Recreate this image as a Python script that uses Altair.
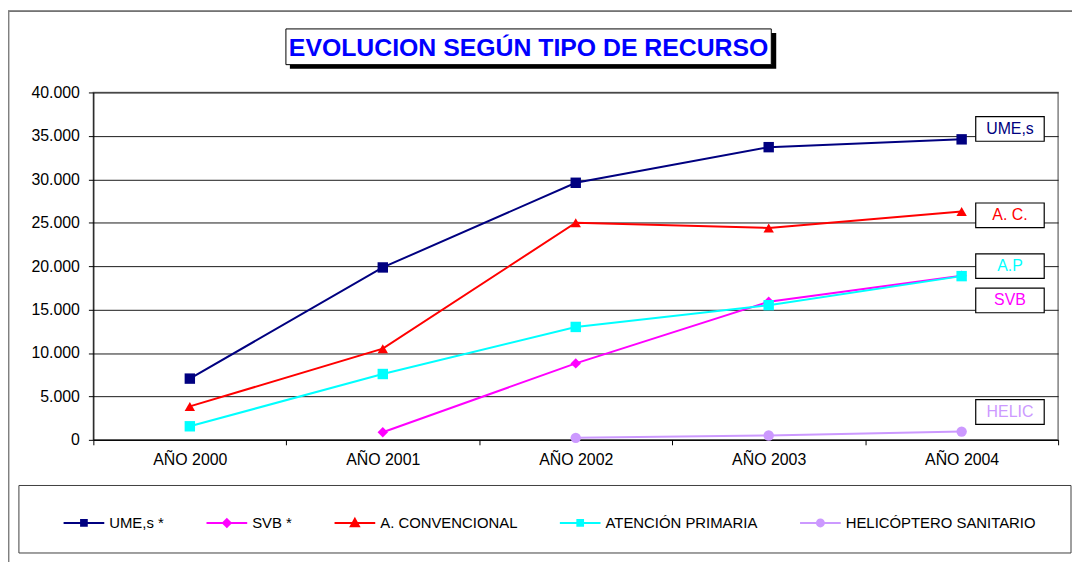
import altair as alt
import pandas as pd

# ---------------- data ----------------
years = ["AÑO 2000", "AÑO 2001", "AÑO 2002", "AÑO 2003", "AÑO 2004"]
series = ["UME,s *", "SVB *", "A. CONVENCIONAL", "ATENCIÓN PRIMARIA", "HELICÓPTERO SANITARIO"]
colors = ["#000080", "#FF00FF", "#FF0000", "#00FFFF", "#CC99FF"]
shapes = ["square", "diamond", "triangle-up", "square", "circle"]

ume = [7050, 19850, 29600, 33700, 34600]
svb = [None, 880, 8800, 15900, 18900]
ac = [3850, 10500, 25000, 24400, 26300]
ap = [1560, 7580, 13000, 15500, 18850]
helic = [None, None, 230, 500, 950]

label_texts = ["UME,s", "A. C.", "A.P", "SVB", "HELIC"]
label_colors = ["#000080", "#FF0000", "#00FFFF", "#FF00FF", "#CC99FF"]
label_values = [35800, 25850, 20000, 16050, 3200]

title_text = "EVOLUCION SEGÚN TIPO DE RECURSO"
y_ticks = [0, 5000, 10000, 15000, 20000, 25000, 30000, 35000, 40000]

# ---------------- tables ----------------
rows = []
for name, vals in zip(series, [ume, svb, ac, ap, helic]):
    for i, (yr, v) in enumerate(zip(years, vals)):
        if v is not None:
            rows.append({"serie": name, "year": yr, "order": i, "value": v})
df = pd.DataFrame(rows)
labels_df = pd.DataFrame({"txt": label_texts, "lc": label_colors, "value": label_values})
one = pd.DataFrame({"k": [0]})

FONT = "Liberation Sans"
W, H = 972, 350

xscale = alt.Scale(domain=years, type="band", paddingInner=0, paddingOuter=0)
yscale = alt.Scale(domain=[0, 40000], nice=False)

x_enc = alt.X("year:N", scale=xscale, bandPosition=0.5,
              axis=alt.Axis(title=None, labelAngle=0, tickBand="extent", tickSize=5,
                            labelFontSize=16, labelFont=FONT, labelColor="#000",
                            labelPadding=7, domainColor="#000", tickColor="#000",
                            grid=False))
y_axis = alt.Axis(title=None, values=y_ticks,
                  labelExpr="replace(format(datum.value, ','), ',', '.')",
                  grid=True, gridColor="#1a1a1a", gridWidth=1,
                  tickSize=5, tickColor="#000", domainColor="#000",
                  labelFontSize=16, labelFont=FONT, labelColor="#000",
                  labelPadding=9)
y_enc = alt.Y("value:Q", scale=yscale, axis=y_axis)

series_layers = []
for name, col, shp in zip(series, colors, shapes):
    base = alt.Chart(df).transform_filter(alt.datum.serie == name)
    series_layers.append(
        base.mark_line(strokeWidth=2, color=col).encode(x=x_enc, y=y_enc, order="order:Q"))
for name, col, shp in zip(series, colors, shapes):
    base = alt.Chart(df).transform_filter(alt.datum.serie == name)
    series_layers.append(
        base.mark_point(filled=True, size=110, opacity=1, shape=shp, color=col).encode(
            x=x_enc, y=y_enc))

# legend symbols: line + marker
legend_paths = [
    "M-1,0H1M-0.14,-0.14H0.14V0.14H-0.14Z",
    "M-1,0H1M0,-0.19L0.19,0L0,0.19L-0.19,0Z",
    "M-1,0H1M0,-0.2L0.2,0.16H-0.2Z",
    "M-1,0H1M-0.14,-0.14H0.14V0.14H-0.14Z",
    "M-1,0H1M0.17,0A0.17,0.17,0,1,1,-0.17,0A0.17,0.17,0,1,1,0.17,0Z",
]
leg = alt.Legend(title=None, orient="none", legendX=-31, legendY=412,
                 direction="horizontal", columns=5, columnPadding=38,
                 symbolSize=1681, symbolStrokeWidth=2, labelFontSize=15,
                 labelFont=FONT, labelColor="#000", labelOffset=4, padding=0,
                 labelLimit=400, symbolOpacity=1)
legend_layer = alt.Chart(df).transform_filter("false").mark_point(
    filled=True, strokeWidth=2, opacity=1).encode(
    x=x_enc, y=y_enc,
    fill=alt.Fill("serie:N", scale=alt.Scale(domain=series, range=colors), legend=leg),
    stroke=alt.Stroke("serie:N", scale=alt.Scale(domain=series, range=colors), legend=leg),
    shape=alt.Shape("serie:N", scale=alt.Scale(domain=series, range=legend_paths), legend=leg),
)

# right-side labels
box_path = "M-1,-0.36H1V0.36H-1Z"
label_boxes = alt.Chart(labels_df).mark_point(
    shape=box_path, size=69 * 69, filled=True, fill="white", stroke="#000",
    strokeWidth=1.2, opacity=1).encode(
    x=alt.value(923.5),
    y=y_enc,
)
label_text = alt.Chart(labels_df).mark_text(
    fontSize=16, font=FONT, align="center", baseline="middle").encode(
    x=alt.value(923.5),
    y=y_enc,
    text="txt:N",
    color=alt.Color("lc:N", scale=None),
)

# decorations: outer frame, title box, legend box
frame_top = alt.Chart(one).mark_rule(color="#000", strokeWidth=1).encode(
    x=alt.value(-86), x2=alt.value(986), y=alt.value(-82))
frame_left = alt.Chart(one).mark_rule(color="#808080", strokeWidth=1.5).encode(
    x=alt.value(-85.3), y=alt.value(-82), y2=alt.value(480))
legend_box = alt.Chart(one).mark_rect(fill="white", stroke="#404040", strokeWidth=1).encode(
    x=alt.value(-75), x2=alt.value(985), y=alt.value(396), y2=alt.value(464))
title_shadow = alt.Chart(one).mark_rect(fill="#000").encode(
    x=alt.value(198), x2=alt.value(688), y=alt.value(-60), y2=alt.value(-24))
title_box = alt.Chart(one).mark_rect(fill="white", stroke="#000", strokeWidth=1).encode(
    x=alt.value(194), x2=alt.value(683), y=alt.value(-64), y2=alt.value(-28))
title = alt.Chart(one).mark_text(
    text=title_text, fontSize=25, fontWeight="bold", font=FONT, color="#0000FF",
    align="center", baseline="middle").encode(x=alt.value(438.5), y=alt.value(-45))

chart = alt.layer(
    frame_top, frame_left, legend_box, title_shadow, title_box, title,
    *series_layers, label_boxes, label_text, legend_layer,
).properties(
    width=W, height=H,
    autosize=alt.AutoSizeParams(type="none"),
    padding={"left": 86, "top": 83, "right": 15, "bottom": 121},
    background="white",
).configure(font=FONT).configure_view(stroke="#808080", strokeWidth=1.5)

chart.save("out.html", embed_options={"renderer": "svg", "actions": False})
